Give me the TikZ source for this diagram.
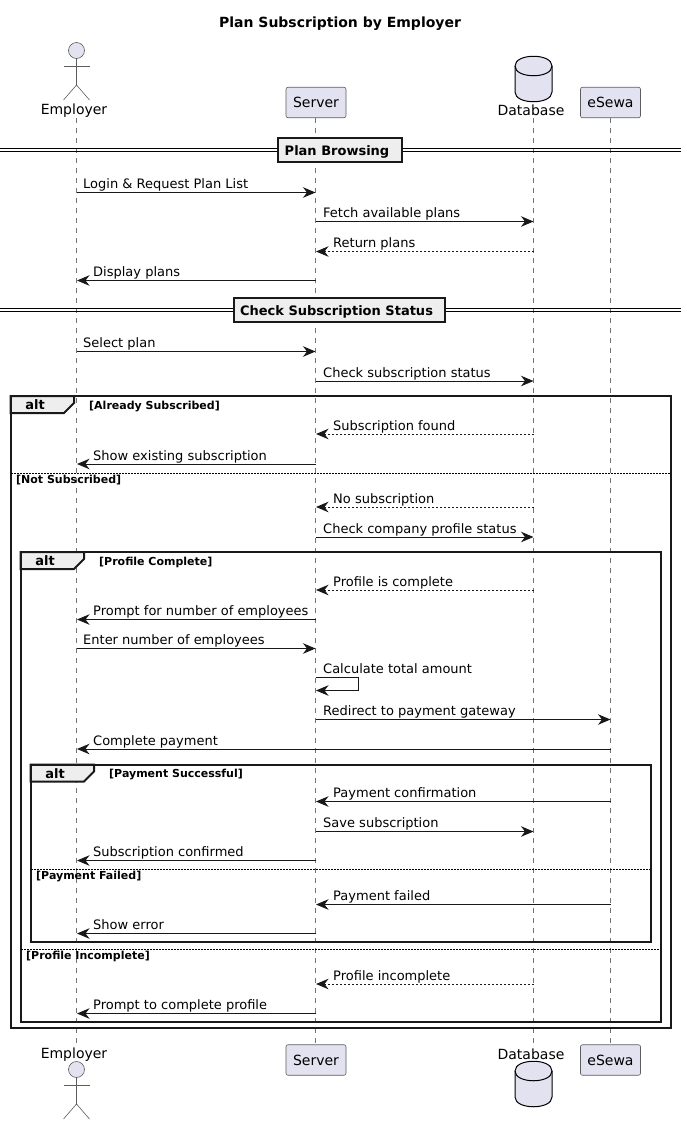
\documentclass[tikz,border=0pt]{standalone}
\usepackage{fontspec}
\setmainfont{DejaVu Sans}
\usetikzlibrary{arrows.meta,shapes.geometric}
\definecolor{partfill}{HTML}{E2E2F0}
\definecolor{ink}{HTML}{181818}
\definecolor{tabfill}{HTML}{EEEEEE}
\def\xE{76.5}\def\xS{315.5}\def\xD{533.5}\def\xP{610.5}
\tikzset{
  msgline/.style={draw=ink,line width=1pt,-{Stealth[length=12.5pt,width=10.5pt,inset=4pt]}},
  retline/.style={msgline,dash pattern=on 2pt off 2pt},
  msgtext/.style={inner sep=0pt,anchor=base west,font=\fontsize{13}{15}\selectfont,text=black},
  lifeline/.style={draw=ink!60,line width=0.6pt,dash pattern=on 5pt off 5pt},
  partbox/.style={draw=ink!70,line width=0.6pt,fill=partfill,rounded corners=2pt,minimum width=60pt,minimum height=30.5pt,inner sep=0pt,font=\fontsize{14}{16}\selectfont},
  partlabel/.style={inner sep=0pt,font=\fontsize{14}{16}\selectfont},
  actorline/.style={draw=ink!70,line width=0.6pt},
  frameline/.style={draw=black!90,line width=2pt},
  guard/.style={inner sep=0pt,anchor=base west,font=\bfseries\fontsize{11}{13}\selectfont},
  tablabel/.style={inner sep=0pt,font=\bfseries\fontsize{13}{15}\selectfont},
  divline/.style={draw=black,line width=0.8pt,dash pattern=on 2pt off 1pt},
  groupbox/.style={draw=black!90,line width=2pt,fill=tabfill,inner sep=0pt,font=\bfseries\fontsize{13}{15}\selectfont},
  groupline/.style={draw=black,line width=0.9pt},
}
% name, from x, to x, y, text x, text, style
\newcommand\msg[7][]{%
  \coordinate (#2-a) at (#3,#5-0.5);
  \coordinate (#2-b) at (#4,#5-0.5);
  \node[msgtext] (#2-t) at (#6,#5-4.5) {#7};
  \draw[#1] (#2-a) -- (#2-b);
}
% name, left, right, top, bottom, tabright, guard
\newcommand\altframe[7]{%
  \coordinate (#1-nw) at (#2,#4);
  \coordinate (#1-se) at (#3,#5);
  \draw[frameline,fill=tabfill] (#2,#4) -- (#6,#4) -- (#6,#4+7) -- (#6-10,#4+17) -- (#2,#4+17) -- cycle;
  \draw[frameline] (#1-nw) rectangle (#1-se);
  \node[tablabel] (#1-alt) at (#2+24.5,#4+9) {alt};
  \node[guard] (#1-g) at (#6+15,#4+13) {#7};
}
% name, left, right, y, guard
\newcommand\altdiv[5]{%
  \coordinate (#1-l) at (#2,#4);
  \coordinate (#1-r) at (#3,#4);
  \draw[divline] (#1-l) -- (#1-r);
  \node[guard] (#1-g) at (#2+5,#4+10) {#5};
}
% name, y, left, right, text
\newcommand\groupsep[5]{%
  \coordinate (#1-l) at (0,#2);
  \coordinate (#1-r) at (680.5,#2);
  \draw[groupline] ([yshift=1.9pt]#1-l) -- ([yshift=1.9pt]#1-r);
  \draw[groupline] ([yshift=-1.9pt]#1-l) -- ([yshift=-1.9pt]#1-r);
  \node[groupbox,minimum width=#4pt-#3pt,minimum height=24pt] (#1) at ({(#3+#4)/2},#2) {\raisebox{-1.5pt}[10pt][3pt]{#5}\hspace*{6pt}};
}
\newcommand\actorfig[2]{%
  \draw[actorline,fill=partfill] (#1,#2+8) circle (8);
  \draw[actorline] (#1,#2+16) -- (#1,#2+42.5);
  \draw[actorline] (#1-13,#2+23.5) -- (#1+13,#2+23.5);
  \draw[actorline] (#1-13,#2+57.5) -- (#1,#2+42.5) -- (#1+13,#2+57.5);
}
\newcommand\dbfig[2]{%
  \draw[draw=black,line width=1pt,fill=partfill] (#1-18.5,#2+10) .. controls (#1-18.5,#2-3) and (#1+18.5,#2-3) .. (#1+18.5,#2+10)
     -- (#1+18.5,#2+36) .. controls (#1+18.5,#2+49) and (#1-18.5,#2+49) .. (#1-18.5,#2+36) -- cycle;
  \draw[draw=black,line width=1pt] (#1-18.5,#2+10) .. controls (#1-18.5,#2+23) and (#1+18.5,#2+23) .. (#1+18.5,#2+10);
}
\begin{document}
\begin{tikzpicture}[x=1pt,y=-1pt]
\useasboundingbox (0,0) rectangle (686,1125);
\node[inner sep=0pt,font=\bfseries\fontsize{14}{16}\selectfont] (title) at (340,24) {Plan Subscription by Employer};
% lifelines
\foreach \n/\x/\t/\b in {le/\xE/118/1044,ls/\xS/118/1044,ld/\xD/118/1044,lp/\xP/118/1044}{
  \coordinate (\n-t) at (\x,\t);
  \coordinate (\n-b) at (\x,\b);
  \draw[lifeline] (\n-t) -- (\n-b);
}
% participants top
\actorfig{\xE}{42.5}
\node[partlabel] (empT) at (\xE-2.5,110.5) {Employer};
\node[partbox] (srvT) at (\xS+0.5,102.5) {Server};
\dbfig{\xD}{56}
\node[partlabel] (dbT) at (\xD-2.5,110.5) {Database};
\node[partbox] (paT) at (\xP,102.5) {eSewa};
% participants bottom
\actorfig{\xE}{1061.5}
\node[partlabel] (empB) at (\xE-2.5,1054.5) {Employer};
\node[partbox] (srvB) at (\xS+0.5,1060) {Server};
\dbfig{\xD}{1061}
\node[partlabel] (dbB) at (\xD-2.5,1054.5) {Database};
\node[partbox] (paB) at (\xP,1060) {eSewa};
% group separators
\groupsep{g1}{150}{278}{402}{Plan Browsing}
\groupsep{g2}{310}{234}{445}{Check Subscription Status}
% frames
\altframe{f1}{10.5}{671}{396}{1028}{74}{[Already Subscribed]}
\altdiv{d1}{11}{670}{473}{[Not Subscribed]}
\altframe{f2}{20.5}{660.5}{552}{1021.5}{84}{[Profile Complete]}
\altdiv{d2}{21}{660}{949.5}{[Profile Incomplete]}
\altframe{f3}{30.5}{651}{764.5}{941.5}{94}{[Payment Successful]}
\altdiv{d3}{31}{650}{869.5}{[Payment Failed]}
% messages
\msg[msgline]{m1}{\xE}{\xS}{193}{83}{Login \& Request Plan List}
\msg[msgline]{m2}{\xS}{\xD}{222}{323}{Fetch available plans}
\msg[retline]{m3}{\xD}{\xS+0.5}{252}{333}{Return plans}
\msg[msgline]{m4}{\xS}{\xE+0.5}{281}{93}{Display plans}
\msg[msgline]{m5}{\xE}{\xS}{352}{83}{Select plan}
\msg[msgline]{m6}{\xS}{\xD}{381.5}{323}{Check subscription status}
\msg[retline]{m7}{\xD}{\xS+0.5}{434.5}{333}{Subscription found}
\msg[msgline]{m8}{\xS}{\xE+0.5}{464.5}{93}{Show existing subscription}
\msg[retline]{m9}{\xD}{\xS+0.5}{507.5}{333}{No subscription}
\msg[msgline]{m10}{\xS}{\xD}{537.5}{323}{Check company profile status}
\msg[retline]{m11}{\xD}{\xS+0.5}{590.5}{333}{Profile is complete}
\msg[msgline]{m12}{\xS}{\xE+0.5}{620}{93}{Prompt for number of employees}
\msg[msgline]{m13}{\xE}{\xS}{649}{83}{Enter number of employees}
% self message
\coordinate (m14-a) at (\xS,677.5);
\coordinate (m14-b) at (\xS+0.5,690.5);
\node[msgtext] (m14-t) at (323,673.5) {Calculate total amount};
\draw[msgline] (m14-a) -- (358.5,677.5) -- (358.5,690.5) -- (m14-b);
\msg[msgline]{m15}{\xS}{\xP}{720}{323}{Redirect to payment gateway}
\msg[msgline]{m16}{\xP}{\xE+0.5}{749.5}{93}{Complete payment}
\msg[msgline]{m17}{\xP}{\xS+0.5}{802}{333}{Payment confirmation}
\msg[msgline]{m18}{\xS}{\xD}{832}{323}{Save subscription}
\msg[msgline]{m19}{\xS}{\xE+0.5}{861}{93}{Subscription confirmed}
\msg[msgline]{m20}{\xP}{\xS+0.5}{905}{333}{Payment failed}
\msg[msgline]{m21}{\xS}{\xE+0.5}{934}{93}{Show error}
\msg[retline]{m22}{\xD}{\xS+0.5}{984.5}{333}{Profile incomplete}
\msg[msgline]{m23}{\xS}{\xE+0.5}{1014}{93}{Prompt to complete profile}
\end{tikzpicture}
\end{document}
